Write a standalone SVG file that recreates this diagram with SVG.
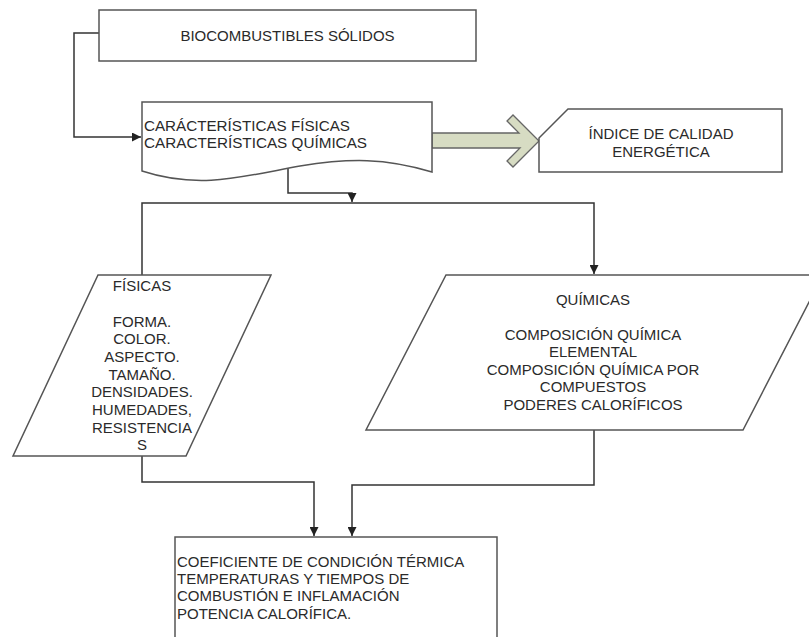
<svg xmlns="http://www.w3.org/2000/svg" width="809" height="637" viewBox="0 0 809 637">
<style>
.shape{fill:#fff;stroke:#555;stroke-width:1.5}
.conn{fill:none;stroke:#333;stroke-width:1.5}
text{font-family:"Liberation Sans",Arial,sans-serif;font-size:15px;fill:#2a2a2a}
.c{text-anchor:middle}
.s{font-size:14.5px}
</style>
<defs>
<marker id="ah" markerUnits="userSpaceOnUse" markerWidth="9" markerHeight="9" refX="9" refY="4.5" orient="auto">
<path d="M0,0 L9,4.5 L0,9 Z" fill="#222"/>
</marker>
</defs>
<rect width="809" height="637" fill="#fff"/>
<g id="connectors">
<path class="conn" d="M99,33 H74 V137 H141" marker-end="url(#ah)"/>
<path class="conn" d="M288,168 V193 H352 V202" marker-end="url(#ah)"/>
<path class="conn" d="M142,276 V203 H594 V274" marker-end="url(#ah)"/>
<path class="conn" d="M142,456 V482 H314 V536" marker-end="url(#ah)"/>
<path class="conn" d="M594,430 V485 H352 V536" marker-end="url(#ah)"/>
<path id="block-arrow" d="M432,133 H519 L507,121 L513,115 L539,141 L513,167 L507,161 L520,148 H432 Z" fill="#d7dcc3" stroke="#666" stroke-width="1.3"/>
</g>
<g id="biocombustibles">
<rect class="shape" x="99" y="10" width="377" height="51"/>
<text class="c" x="287.5" y="40.5">BIOCOMBUSTIBLES SÓLIDOS</text>
</g>
<g id="caracteristicas">
<path class="shape" d="M142,102 H432 V172 C385,158 350,158 300,166 C245,176 200,190 142,171 Z"/>
<text class="s" x="144" y="131" textLength="206" lengthAdjust="spacingAndGlyphs">CARÁCTERÍSTICAS FÍSICAS</text>
<text class="s" x="144" y="147.5" textLength="223" lengthAdjust="spacingAndGlyphs">CARACTERÍSTICAS QUÍMICAS</text>
</g>
<g id="indice">
<path class="shape" d="M568,109 H782 V172 H539 V138 Z"/>
<text class="c" x="661" y="138.5">ÍNDICE DE CALIDAD</text>
<text class="c" x="661" y="156.5">ENERGÉTICA</text>
</g>
<g id="fisicas">
<path class="shape" d="M98,275 H271 L186,456 H13 Z"/>
<text class="c" x="142" y="291">FÍSICAS</text>
<text class="c" x="142" y="326.5">FORMA.</text>
<text class="c" x="142" y="344.2">COLOR.</text>
<text class="c" x="142" y="361.9">ASPECTO.</text>
<text class="c" x="142" y="379.6">TAMAÑO.</text>
<text class="c" x="142" y="397.3">DENSIDADES.</text>
<text class="c" x="142" y="415">HUMEDADES,</text>
<text class="c" x="142" y="432.7">RESISTENCIA</text>
<text class="c" x="142" y="450.4">S</text>
</g>
<g id="quimicas">
<path class="shape" d="M446,275 H823 L743,430 H366 Z"/>
<text class="c" x="593" y="304.5">QUÍMICAS</text>
<text class="c" x="593" y="339.5">COMPOSICIÓN QUÍMICA</text>
<text class="c" x="593" y="357">ELEMENTAL</text>
<text class="c" x="593" y="374.5">COMPOSICIÓN QUÍMICA POR</text>
<text class="c" x="593" y="392">COMPUESTOS</text>
<text class="c" x="593" y="410">PODERES CALORÍFICOS</text>
</g>
<g id="coeficiente">
<rect class="shape" x="175" y="537" width="322" height="130"/>
<text x="177" y="566.5">COEFICIENTE DE CONDICIÓN TÉRMICA</text>
<text x="177" y="583.5">TEMPERATURAS Y TIEMPOS DE</text>
<text x="177" y="601">COMBUSTIÓN E INFLAMACIÓN</text>
<text x="177" y="619">POTENCIA CALORÍFICA.</text>
</g>
</svg>
